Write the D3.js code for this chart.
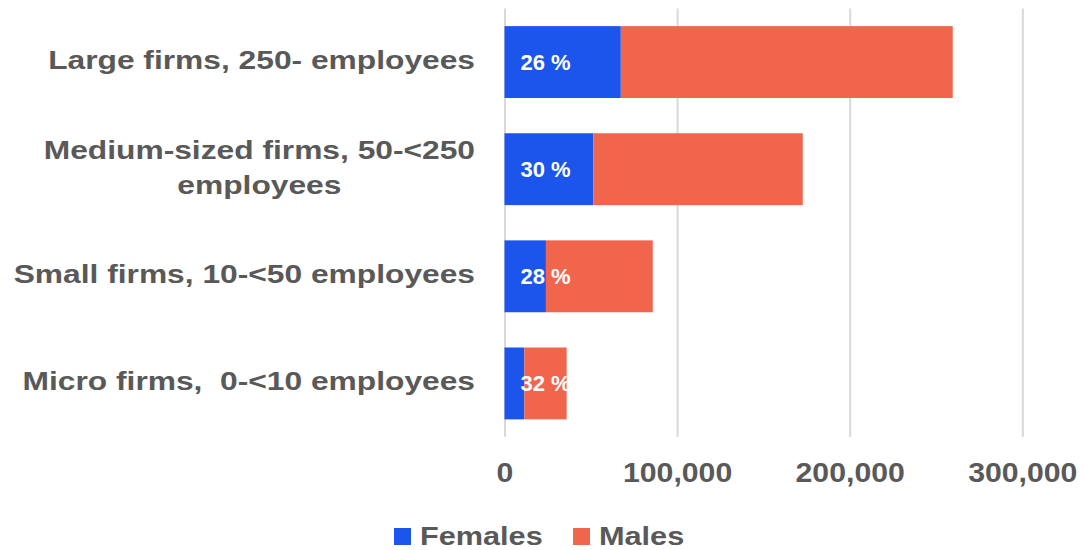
<!DOCTYPE html>
<html><head><meta charset="utf-8">
<script src="https://cdn.jsdelivr.net/npm/d3@7"></script>
<style>
html,body{margin:0;padding:0;background:#fff;}
svg{display:block;font-family:"Liberation Sans",Arial,sans-serif;}
</style></head>
<body>
<svg id="chart" width="1084" height="550"></svg>
<script>
const categories = ["Large firms, 250- employees", "Medium-sized firms, 50-<250 employees", "Small firms, 10-<50 employees", "Micro firms,  0-<10 employees"];
const categoryLines = [["Large firms, 250- employees"], ["Medium-sized firms, 50-<250", "employees"], ["Small firms, 10-<50 employees"], ["Micro firms,  0-<10 employees"]];
const females = [67400, 51500, 24000, 11500];
const males = [192300, 121300, 61900, 24500];
const shareLabels = ["26 %", "30 %", "28 %", "32 %"];
const seriesNames = ["Females", "Males"];
const tickValues = [0, 100000, 200000, 300000];

const colors = {Females: "#1b55eb", Males: "#f2654d"};
const textColor = "#595959";
const svg = d3.select("#chart");
const m = {left: 504.5, right: 61.7, top: 8.5, bottom: 113};
const W = 1084, H = 550;
const x = d3.scaleLinear().domain([0, 300000]).range([m.left, W - m.right]);
const y = d3.scaleBand().domain(categories).range([m.top, H - m.bottom]).paddingInner(0.329).paddingOuter(0.1645);

// grid + axis
const axis = d3.axisBottom(x).tickValues(tickValues).tickSize(-(H - m.bottom - m.top)).tickFormat(d3.format(","));
const gAxis = svg.append("g").attr("transform", `translate(0,${H - m.bottom})`).call(axis);
gAxis.select(".domain").remove();
gAxis.selectAll(".tick line").attr("stroke", "#d9d9d9").attr("stroke-width", 2);
gAxis.selectAll(".tick text").remove();
gAxis.selectAll(".tick").append("g")
  .attr("transform", "translate(0,45) scale(1.12,1)")
  .append("text")
  .attr("text-anchor", "middle")
  .attr("fill", textColor)
  .attr("font-weight", "bold")
  .attr("font-size", 27)
  .text(d => d3.format(",")(d));

// stacked bars
const rows = categories.map((c, i) => ({cat: c, Females: females[i], Males: males[i]}));
const stack = d3.stack().keys(seriesNames)(rows);
svg.append("g").selectAll("g").data(stack).join("g")
  .attr("fill", d => colors[d.key])
  .selectAll("rect").data(d => d).join("rect")
  .attr("x", d => x(d[0]))
  .attr("width", d => x(d[1]) - x(d[0]))
  .attr("y", d => y(d.data.cat))
  .attr("height", y.bandwidth());

// share labels
svg.append("g").selectAll("text").data(categories).join("text")
  .attr("x", x(0) + 16)
  .attr("y", d => y(d) + y.bandwidth() / 2 + 7.5)
  .attr("fill", "#fff")
  .attr("font-weight", "bold")
  .attr("font-size", 22)
  .text((d, i) => shareLabels[i]);

// category labels
const sx = 1.27;
categories.forEach((c, i) => {
  const lines = categoryLines[i];
  const cy = y(c) + y.bandwidth() / 2;
  const lh = 35;
  const firstBase = cy + 7 - (lines.length - 1) * lh / 2;
  const g = svg.append("g").attr("transform", `translate(475,${firstBase}) scale(${sx},1)`);
  const t0 = g.append("text")
    .attr("text-anchor", "end")
    .attr("fill", textColor).attr("font-weight", "bold").attr("font-size", 25)
    .style("white-space", "pre")
    .text(lines[0]);
  const w0 = t0.node().getComputedTextLength();
  for (let k = 1; k < lines.length; k++) {
    g.append("text")
      .attr("x", -w0 / 2).attr("y", k * lh)
      .attr("text-anchor", "middle")
      .attr("fill", textColor).attr("font-weight", "bold").attr("font-size", 25)
      .style("white-space", "pre")
      .text(lines[k]);
  }
});

// legend
const legend = svg.append("g");
const legendX = [394, 573];
seriesNames.forEach((s, i) => {
  const g = legend.append("g").attr("transform", `translate(${legendX[i]},528)`);
  g.append("rect").attr("width", 17).attr("height", 17).attr("fill", colors[s]);
  g.append("g").attr("transform", "translate(26,17) scale(1.18,1)")
    .append("text")
    .attr("fill", textColor).attr("font-weight", "bold").attr("font-size", 26)
    .text(s);
});
</script>
</body></html>
